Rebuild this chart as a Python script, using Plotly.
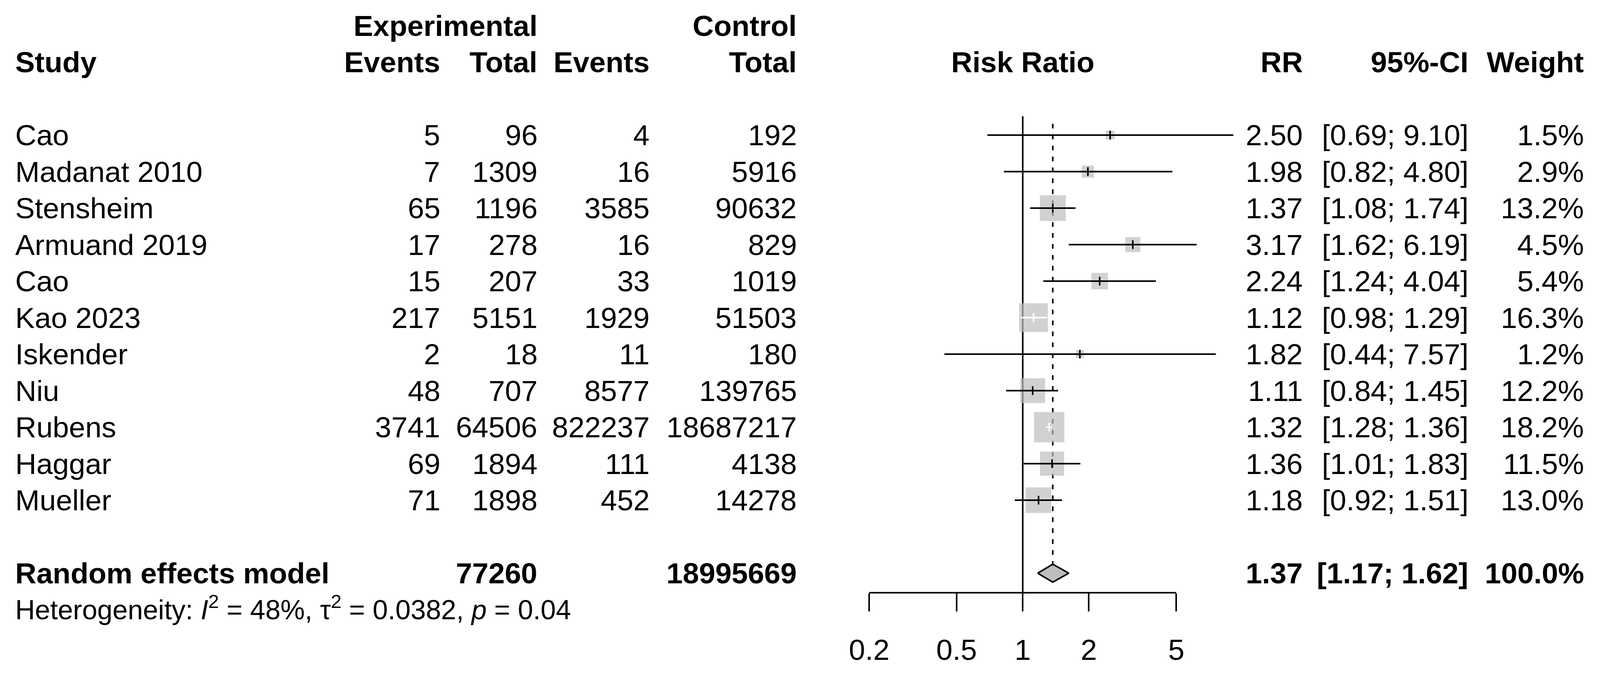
import math
import plotly.graph_objects as go

# ---------------- data ----------------
studies = ["Cao", "Madanat 2010", "Stensheim", "Armuand 2019", "Cao", "Kao 2023",
           "Iskender", "Niu", "Rubens", "Haggar", "Mueller"]
exp_events = [5, 7, 65, 17, 15, 217, 2, 48, 3741, 69, 71]
exp_total = [96, 1309, 1196, 278, 207, 5151, 18, 707, 64506, 1894, 1898]
ctrl_events = [4, 16, 3585, 16, 33, 1929, 11, 8577, 822237, 111, 452]
ctrl_total = [192, 5916, 90632, 829, 1019, 51503, 180, 139765, 18687217, 4138, 14278]
rr = [2.50, 1.98, 1.37, 3.17, 2.24, 1.12, 1.82, 1.11, 1.32, 1.36, 1.18]
ci_low = [0.69, 0.82, 1.08, 1.62, 1.24, 0.98, 0.44, 0.84, 1.28, 1.01, 0.92]
ci_high = [9.10, 4.80, 1.74, 6.19, 4.04, 1.29, 7.57, 1.45, 1.36, 1.83, 1.51]
weights = [1.5, 2.9, 13.2, 4.5, 5.4, 16.3, 1.2, 12.2, 18.2, 11.5, 13.0]

pooled_rr = 1.37
pooled_low = 1.17
pooled_high = 1.62
pooled_weight = 100.0
pooled_exp_total = 77260
pooled_ctrl_total = 18995669
pooled_label = "Random effects model"
het_text = "Heterogeneity: <i>I</i><sup>2</sup> = 48%, τ<sup>2</sup> = 0.0382, <i>p</i> = 0.04"

tick_vals = [0.2, 0.5, 1, 2, 5]
tick_text = ["0.2", "0.5", "1", "2", "5"]

# ---------------- layout geometry ----------------
# reference frame is 4203 x 1739; the browser viewport is 4096 wide and the
# page body has an 8px margin, so map reference pixels into figure pixels.
REF_W = 4203.0
VIEW_W = 4096.0
OFF = 8.0
SX = VIEW_W / REF_W
W = int(VIEW_W - OFF)
H = int(1739 - OFF)

def fx(rx):
    return rx * SX - OFF

def fy(ry):
    return ry - OFF

X_ONE = fx(2686.6)            # pixel of RR = 1
PX_PER_DEC = 577.0 * SX       # pixels per decade
L0 = -X_ONE / PX_PER_DEC
L1 = (W - X_ONE) / PX_PER_DEC
ROW0 = fy(346.0)
ROW_PX = 93.5
AXIS = fy(1516.0)
Y_BOTTOM = (AXIS - ROW0) / ROW_PX
Y_TOP = -ROW0 / ROW_PX

FONT = "Liberation Sans, Arial, Helvetica, sans-serif"
FS = 75
LW = 4.0
GREY = "#BEBEBE"

rows = list(range(len(studies)))
pooled_row = len(studies) + 1
het_y = fy(1557.0)

# ---------------- traces ----------------
fig = go.Figure()

# reference line at RR = 1
fig.add_trace(go.Scatter(x=[1, 1], y=[-0.52, Y_BOTTOM], mode="lines",
                         line=dict(color="black", width=LW), hoverinfo="skip"))
# pooled estimate (dashed)
diamond_half = 0.246
fig.add_trace(go.Scatter(x=[pooled_rr, pooled_rr], y=[-0.31, pooled_row - diamond_half],
                         mode="lines", line=dict(color="black", width=LW, dash="12px,16px"),
                         hoverinfo="skip"))

# weight squares
K = 18.2
sizes = [K * math.sqrt(w) for w in weights]
fig.add_trace(go.Scatter(x=rr, y=rows, mode="markers",
                         marker=dict(symbol="square", size=sizes, color=GREY,
                                     line=dict(width=0)),
                         hoverinfo="skip"))

# confidence intervals (white when the interval lies inside its square)
bx, by, wx, wy = [], [], [], []
TICK_H = 0.12
for i in rows:
    half = sizes[i] / 2.0 / PX_PER_DEC
    c = math.log10(rr[i])
    inside = (c - half <= math.log10(ci_low[i])) and (math.log10(ci_high[i]) <= c + half)
    xs, ys = (wx, wy) if inside else (bx, by)
    xs += [ci_low[i], ci_high[i], None, rr[i], rr[i], None]
    ys += [i, i, None, i - TICK_H, i + TICK_H, None]

fig.add_trace(go.Scatter(x=bx, y=by, mode="lines", line=dict(color="black", width=LW),
                         hoverinfo="skip"))
fig.add_trace(go.Scatter(x=wx, y=wy, mode="lines", line=dict(color="white", width=LW),
                         hoverinfo="skip"))

# pooled diamond
fig.add_trace(go.Scatter(x=[pooled_low, pooled_rr, pooled_high, pooled_rr, pooled_low],
                         y=[pooled_row, pooled_row - diamond_half, pooled_row,
                            pooled_row + diamond_half, pooled_row],
                         mode="lines", fill="toself", fillcolor=GREY,
                         line=dict(color="black", width=LW), hoverinfo="skip"))

# invisible trace carrying the visible x axis
fig.add_trace(go.Scatter(x=[tick_vals[0], tick_vals[-1]], y=[0, 0], xaxis="x2", yaxis="y2",
                         mode="markers", marker=dict(opacity=0), hoverinfo="skip"))

# ---------------- text ----------------
COL = dict(study=38, ee=1159, et=1414, ce=1709, ct=2095, rr=3424, ci=3859, w=4163)
anns = []

def ann(text, rx, y, anchor, bold=False, size=FS, yref="y"):
    if bold:
        text = "<b>" + text + "</b>"
    anns.append(dict(text=text, x=fx(rx) / W, xref="paper", y=y, yref=yref,
                     xanchor=anchor, yanchor="middle", showarrow=False,
                     font=dict(family=FONT, size=size, color="black")))

ann("Experimental", COL["et"], -3, "right", True)
ann("Control", COL["ct"], -3, "right", True)
ann("Study", COL["study"], -2, "left", True)
ann("Events", COL["ee"], -2, "right", True)
ann("Total", COL["et"], -2, "right", True)
ann("Events", COL["ce"], -2, "right", True)
ann("Total", COL["ct"], -2, "right", True)
ann("Risk Ratio", 2686.6, -2, "center", True)
ann("RR", COL["rr"], -2, "right", True)
ann("95%-CI", COL["ci"], -2, "right", True)
ann("Weight", COL["w"], -2, "right", True)

for i in rows:
    ann(studies[i], COL["study"], i, "left")
    ann(str(exp_events[i]), COL["ee"], i, "right")
    ann(str(exp_total[i]), COL["et"], i, "right")
    ann(str(ctrl_events[i]), COL["ce"], i, "right")
    ann(str(ctrl_total[i]), COL["ct"], i, "right")
    ann(f"{rr[i]:.2f}", COL["rr"], i, "right")
    ann(f"[{ci_low[i]:.2f}; {ci_high[i]:.2f}]", COL["ci"], i, "right")
    ann(f"{weights[i]:.1f}%", COL["w"], i, "right")

ann(pooled_label, COL["study"], pooled_row, "left", True)
ann(str(pooled_exp_total), COL["et"], pooled_row, "right", True)
ann(str(pooled_ctrl_total), COL["ct"], pooled_row, "right", True)
ann(f"{pooled_rr:.2f}", COL["rr"], pooled_row, "right", True)
ann(f"[{pooled_low:.2f}; {pooled_high:.2f}]", COL["ci"], pooled_row, "right", True)
ann(f"{pooled_weight:.1f}%", COL["w"], pooled_row, "right", True)
ann(het_text, COL["study"], (AXIS - het_y) / AXIS, "left", False, 70, "paper")

# ---------------- layout ----------------
d0 = (math.log10(tick_vals[0]) - L0) / (L1 - L0)
d1 = (math.log10(tick_vals[-1]) - L0) / (L1 - L0)

fig.update_layout(
    width=W, height=H, autosize=False,
    margin=dict(l=0, r=0, t=0, b=H - AXIS, pad=0),
    paper_bgcolor="white", plot_bgcolor="rgba(0,0,0,0)",
    showlegend=False, annotations=anns,
    font=dict(family=FONT, size=FS, color="black"),
    xaxis=dict(type="log", range=[L0, L1], domain=[0, 1], visible=False,
               showgrid=False, zeroline=False, fixedrange=True),
    yaxis=dict(range=[Y_BOTTOM, Y_TOP], domain=[0, 1], visible=False,
               showgrid=False, zeroline=False, fixedrange=True),
    xaxis2=dict(type="log", range=[math.log10(tick_vals[0]), math.log10(tick_vals[-1])],
                domain=[d0, d1], anchor="y2", showline=True, linecolor="black",
                linewidth=LW, ticks="outside", ticklen=46, tickwidth=LW,
                tickcolor="black", tickvals=tick_vals, ticktext=tick_text,
                tickfont=dict(family=FONT, size=FS, color="black"),
                ticklabelstandoff=34, showgrid=False, zeroline=False,
                automargin=False, fixedrange=True),
    yaxis2=dict(domain=[0, 1], anchor="x2", range=[0, 1], visible=False,
                showgrid=False, zeroline=False, fixedrange=True),
)

fig.write_html("out.html")
